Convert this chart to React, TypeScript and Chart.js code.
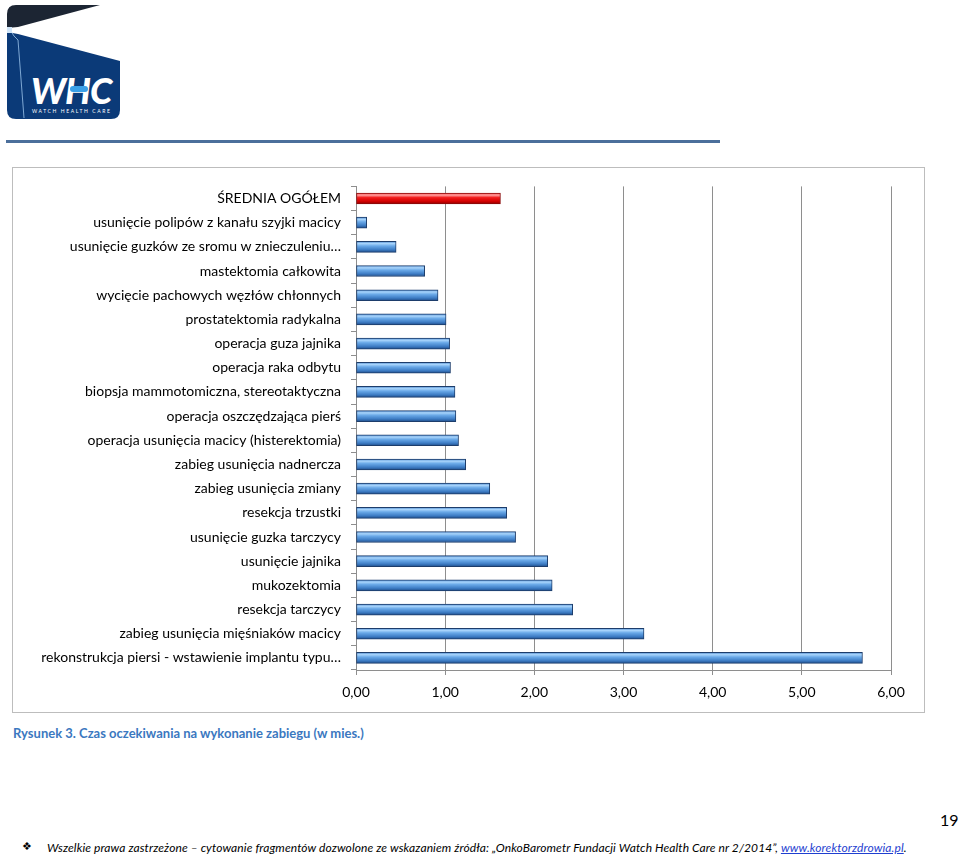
import React, { useEffect, useRef } from "react";
import { Chart, registerables } from "chart.js";
Chart.register(...registerables);

const categories = [
  "ŚREDNIA OGÓŁEM",
  "usunięcie polipów z kanału szyjki macicy",
  "usunięcie guzków ze sromu w znieczuleniu…",
  "mastektomia całkowita",
  "wycięcie pachowych węzłów chłonnych",
  "prostatektomia radykalna",
  "operacja guza jajnika",
  "operacja raka odbytu",
  "biopsja mammotomiczna, stereotaktyczna",
  "operacja oszczędzająca pierś",
  "operacja usunięcia macicy (histerektomia)",
  "zabieg usunięcia nadnercza",
  "zabieg usunięcia zmiany",
  "resekcja trzustki",
  "usunięcie guzka tarczycy",
  "usunięcie jajnika",
  "mukozektomia",
  "resekcja tarczycy",
  "zabieg usunięcia mięśniaków macicy",
  "rekonstrukcja piersi - wstawienie implantu typu…",
];

const waitMonths = [
  1.62, 0.12, 0.45, 0.77, 0.92, 1.01, 1.05, 1.06, 1.11, 1.12, 1.15, 1.23,
  1.5, 1.69, 1.79, 2.15, 2.2, 2.43, 3.23, 5.68,
];

const highlightCategory = "ŚREDNIA OGÓŁEM";
const axisMin = 0;
const axisMax = 6;
const axisStep = 1;

const FONT = "Lato, 'Open Sans', sans-serif";
const BAR_H = 11;

function ChartBox() {
  const ref = useRef<HTMLCanvasElement | null>(null);
  useEffect(() => {
    if (!ref.current) return;
    const fill = (c: any) => {
      const isRed = categories[c.dataIndex] === highlightCategory;
      const flat = isRed ? "#e00000" : "#4a8ad4";
      const chart = c.chart;
      const ys = chart.scales && chart.scales.y;
      if (!ys || c.dataIndex === undefined) return flat;
      const yc = ys.getPixelForValue(c.dataIndex);
      if (!Number.isFinite(yc)) return flat;
      const g = chart.ctx.createLinearGradient(0, yc - BAR_H / 2, 0, yc + BAR_H / 2);
      if (isRed) {
        g.addColorStop(0, "#ff4a4a");
        g.addColorStop(0.2, "#ff9c9c");
        g.addColorStop(0.42, "#f21c1c");
        g.addColorStop(0.75, "#d40000");
        g.addColorStop(1, "#8c0000");
      } else {
        g.addColorStop(0, "#4f8bd0");
        g.addColorStop(0.2, "#a8d4fb");
        g.addColorStop(0.42, "#6aa9e8");
        g.addColorStop(0.75, "#3e7dc5");
        g.addColorStop(1, "#1f4d8a");
      }
      return g;
    };
    const chart = new Chart(ref.current, {
      type: "bar",
      data: {
        labels: categories,
        datasets: [
          {
            data: waitMonths,
            backgroundColor: fill,
            borderColor: (c: any) =>
              categories[c.dataIndex] === highlightCategory ? "#8a0a0a" : "#1d3d6b",
            borderWidth: 1,
            borderSkipped: false,
            barThickness: BAR_H,
          },
        ],
      },
      options: {
        indexAxis: "y",
        animation: false,
        responsive: false,
        maintainAspectRatio: false,
        layout: { padding: { top: 16, right: 33, bottom: 0, left: 0 } },
        plugins: { legend: { display: false }, tooltip: { enabled: false } },
        scales: {
          x: {
            min: axisMin,
            max: axisMax,
            ticks: {
              stepSize: axisStep,
              color: "#000",
              padding: 9,
              font: { family: FONT, size: 14 },
              callback: (v: any) => Number(v).toFixed(2).replace(".", ","),
            },
            grid: { color: "#8e8e8e", tickLength: 5, lineWidth: 1 },
            border: { color: "#8e8e8e" },
            afterFit: (s: any) => {
              s.height = 42;
            },
          },
          y: {
            offset: true,
            ticks: {
              color: "#000",
              padding: 10,
              font: { family: FONT, size: 14 },
              autoSkip: false,
            },
            grid: { offset: true, drawOnChartArea: false, tickLength: 5, color: "#8e8e8e" },
            border: { color: "#8e8e8e" },
            afterFit: (s: any) => {
              s.width = 343;
            },
          },
        },
      },
    });
    chart.update();
    return () => chart.destroy();
  }, []);
  return <canvas ref={ref} width={911} height={544} style={{ display: "block" }} />;
}

function Logo() {
  return (
    <svg width={130} height={125} style={{ position: "absolute", left: 0, top: 0 }}>
      <path d="M7 14 Q7 5 16 5 L100 5 L18 27 L7 28 Z" fill="#1c2533" />
      <path d="M7 32 L18 34 L120 61 L120 110 Q120 119 111 119 L16 119 Q7 119 7 110 Z" fill="#0b3a78" />
      <path d="M9 28 L14 36 L18 40 L24 118" stroke="#9cc4ea" strokeWidth={0.8} fill="none" />
      <rect x={7} y={27} width={5} height={6} fill="#cfe4f7" />
      <text x={31} y={104} fill="#ffffff" fontFamily="Lato, sans-serif" fontWeight={900} fontStyle="italic" fontSize={36} letterSpacing={-1}>
        WHC
      </text>
      <rect x={70} y={86} width={18} height={6} rx={3} fill="#3aa0e8" />
      <text x={32} y={113} fill="#ffffff" fontFamily="Lato, sans-serif" fontSize={5} letterSpacing={1.6}>
        WATCH HEALTH CARE
      </text>
    </svg>
  );
}

export default function App() {
  useEffect(() => {
    document.body.style.margin = "0";
  }, []);
  return (
    <div style={{ position: "relative", width: 960, height: 859, background: "#fff", overflow: "hidden" }}>
      <Logo />
      <div style={{ position: "absolute", left: 6, top: 140, width: 714, height: 3, background: "#4b6f9b" }} />
      <div
        style={{
          position: "absolute",
          left: 12,
          top: 167,
          width: 911,
          height: 544,
          border: "1px solid #bdbdbd",
        }}
      >
        <ChartBox />
      </div>
      <div
        style={{
          position: "absolute",
          left: 13,
          top: 725,
          fontFamily: FONT,
          fontSize: 13,
          fontWeight: 700,
          color: "#3b78c0",
          whiteSpace: "nowrap",
        }}
      >
        Rysunek 3. Czas oczekiwania na wykonanie zabiegu (w mies.)
      </div>
      <div style={{ position: "absolute", left: 940, top: 810, fontFamily: FONT, fontSize: 16, color: "#000" }}>19</div>
      <div style={{ position: "absolute", left: 22, top: 840, fontFamily: "DejaVu Sans, sans-serif", fontSize: 11, color: "#000" }}>❖</div>
      <div
        style={{
          position: "absolute",
          left: 47,
          top: 840,
          fontFamily: FONT,
          fontStyle: "italic",
          fontSize: 12,
          letterSpacing: 0.1,
          color: "#000",
          whiteSpace: "nowrap",
        }}
      >
        Wszelkie prawa zastrzeżone – cytowanie fragmentów dozwolone ze wskazaniem źródła: „OnkoBarometr Fundacji Watch Health Care nr 2/2014”,{" "}
        <span style={{ color: "#1f3fd0", textDecoration: "underline" }}>www.korektorzdrowia.pl</span>.
      </div>
    </div>
  );
}
